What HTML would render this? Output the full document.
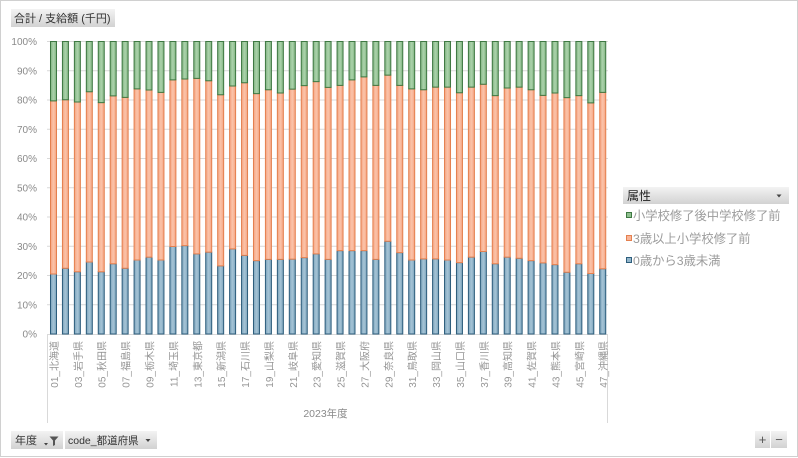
<!DOCTYPE html>
<html><head><meta charset="utf-8">
<style>
html,body{margin:0;padding:0;background:#fff;}
svg{display:block;}
text{font-family:"Liberation Sans","Noto Sans CJK JP",sans-serif;}
.yl{font-size:10px;fill:#8a8a8a;text-anchor:end;}
.xl{font-size:10px;fill:#949494;text-anchor:end;}
.lg{font-size:12.3px;fill:#9c9c9c;}
.s{stroke-width:1;vector-effect:non-scaling-stroke;}
</style></head>
<body>
<svg width="798" height="458" viewBox="0 0 798 458" xmlns="http://www.w3.org/2000/svg">
<defs>
<linearGradient id="btn" x1="0" y1="0" x2="0" y2="1"><stop offset="0" stop-color="#f3f3f3"/><stop offset="1" stop-color="#d2d2d2"/></linearGradient>
</defs>
<rect x="0.5" y="0.5" width="797" height="456" fill="#fff" stroke="#d0d0d0"/>

<rect x="11" y="9" width="104" height="18" fill="url(#btn)"/>
<text x="14" y="22" style="font-size:11px;fill:#333">合計 / 支給額 (千円)</text>

<path stroke="#d9d9d9" stroke-width="1" fill="none" d="M47 41.5H608M47 70.75H608M47 100H608M47 129.25H608M47 158.5H608M47 187.75H608M47 217H608M47 246.25H608M47 275.5H608M47 304.75H608M47 334.5H608M47.5 334V423M607.5 334V423"/>

<text class="yl" x="37" y="45">100%</text>
<text class="yl" x="37" y="74.3">90%</text>
<text class="yl" x="37" y="103.5">80%</text>
<text class="yl" x="37" y="132.8">70%</text>
<text class="yl" x="37" y="162">60%</text>
<text class="yl" x="37" y="191.3">50%</text>
<text class="yl" x="37" y="220.5">40%</text>
<text class="yl" x="37" y="249.8">30%</text>
<text class="yl" x="37" y="279">20%</text>
<text class="yl" x="37" y="308.3">10%</text>
<text class="yl" x="37" y="337.5">0%</text>

<g transform="translate(47,334) scale(11.94,-2.925)">
<defs>
<linearGradient id="gb" gradientUnits="userSpaceOnUse" x1="0.293" y1="0" x2="1.293" y2="0" spreadMethod="repeat"><stop offset="0" stop-color="#7ba3bb"/><stop offset="0.25" stop-color="#a6c4d6"/><stop offset="0.5025" stop-color="#7ba3bb"/><stop offset="1" stop-color="#7ba3bb"/></linearGradient>
<linearGradient id="go" gradientUnits="userSpaceOnUse" x1="0.293" y1="0" x2="1.293" y2="0" spreadMethod="repeat"><stop offset="0" stop-color="#f5a381"/><stop offset="0.25" stop-color="#fbc4aa"/><stop offset="0.5025" stop-color="#f5a381"/><stop offset="1" stop-color="#f5a381"/></linearGradient>
<linearGradient id="gg" gradientUnits="userSpaceOnUse" x1="0.293" y1="0" x2="1.293" y2="0" spreadMethod="repeat"><stop offset="0" stop-color="#80b380"/><stop offset="0.25" stop-color="#acd3ac"/><stop offset="0.5025" stop-color="#80b380"/><stop offset="1" stop-color="#80b380"/></linearGradient>
</defs>
<path class="s" fill="url(#gb)" stroke="#2d5d7c" d="M0.293 0V20.5h.5025V0zM1.293 0V22.5h.5025V0zM2.293 0V21.3h.5025V0zM3.293 0V24.6h.5025V0zM4.293 0V21.3h.5025V0zM5.293 0V24h.5025V0zM6.293 0V22.5h.5025V0zM7.293 0V25.3h.5025V0zM8.293 0V26.3h.5025V0zM9.293 0V25.3h.5025V0zM10.293 0V29.9h.5025V0zM11.293 0V30.2h.5025V0zM12.293 0V27.4h.5025V0zM13.293 0V28h.5025V0zM14.293 0V23.3h.5025V0zM15.293 0V29.1h.5025V0zM16.293 0V26.9h.5025V0zM17.293 0V25.1h.5025V0zM18.293 0V25.5h.5025V0zM19.293 0V25.5h.5025V0zM20.293 0V25.6h.5025V0zM21.293 0V26.1h.5025V0zM22.293 0V27.4h.5025V0zM23.293 0V25.5h.5025V0zM24.293 0V28.5h.5025V0zM25.293 0V28.5h.5025V0zM26.293 0V28.5h.5025V0zM27.293 0V25.5h.5025V0zM28.293 0V31.7h.5025V0zM29.293 0V27.8h.5025V0zM30.293 0V25.3h.5025V0zM31.293 0V25.7h.5025V0zM32.293 0V25.7h.5025V0zM33.293 0V25.3h.5025V0zM34.293 0V24.4h.5025V0zM35.293 0V26.3h.5025V0zM36.293 0V28.2h.5025V0zM37.293 0V24h.5025V0zM38.293 0V26.3h.5025V0zM39.293 0V25.9h.5025V0zM40.293 0V25.1h.5025V0zM41.293 0V24.3h.5025V0zM42.293 0V23.7h.5025V0zM43.293 0V21.1h.5025V0zM44.293 0V24h.5025V0zM45.293 0V20.7h.5025V0zM46.293 0V22.3h.5025V0z"/>
<path class="s" fill="url(#go)" stroke="#e4804f" d="M0.293 20.5V79.7h.5025V20.5zM1.293 22.5V80.1h.5025V22.5zM2.293 21.3V79.3h.5025V21.3zM3.293 24.6V82.8h.5025V24.6zM4.293 21.3V79.1h.5025V21.3zM5.293 24V81.4h.5025V24zM6.293 22.5V80.9h.5025V22.5zM7.293 25.3V83.8h.5025V25.3zM8.293 26.3V83.4h.5025V26.3zM9.293 25.3V82.6h.5025V25.3zM10.293 29.9V86.9h.5025V29.9zM11.293 30.2V87.2h.5025V30.2zM12.293 27.4V87.4h.5025V27.4zM13.293 28V86.6h.5025V28zM14.293 23.3V81.8h.5025V23.3zM15.293 29.1V84.8h.5025V29.1zM16.293 26.9V85.9h.5025V26.9zM17.293 25.1V82.2h.5025V25.1zM18.293 25.5V83.5h.5025V25.5zM19.293 25.5V82.4h.5025V25.5zM20.293 25.6V83.7h.5025V25.6zM21.293 26.1V84.9h.5025V26.1zM22.293 27.4V86.3h.5025V27.4zM23.293 25.5V84.3h.5025V25.5zM24.293 28.5V85h.5025V28.5zM25.293 28.5V86.9h.5025V28.5zM26.293 28.5V87.9h.5025V28.5zM27.293 25.5V85h.5025V25.5zM28.293 31.7V88.5h.5025V31.7zM29.293 27.8V85h.5025V27.8zM30.293 25.3V83.8h.5025V25.3zM31.293 25.7V83.5h.5025V25.7zM32.293 25.7V84.4h.5025V25.7zM33.293 25.3V84.4h.5025V25.3zM34.293 24.4V82.5h.5025V24.4zM35.293 26.3V84.4h.5025V26.3zM36.293 28.2V85.4h.5025V28.2zM37.293 24V81.5h.5025V24zM38.293 26.3V84.1h.5025V26.3zM39.293 25.9V84.4h.5025V25.9zM40.293 25.1V83.5h.5025V25.1zM41.293 24.3V81.6h.5025V24.3zM42.293 23.7V82.4h.5025V23.7zM43.293 21.1V80.8h.5025V21.1zM44.293 24V81.5h.5025V24zM45.293 20.7V79h.5025V20.7zM46.293 22.3V82.6h.5025V22.3z"/>
<path class="s" fill="url(#gg)" stroke="#3e7842" d="M0.293 79.7V100h.5025V79.7zM1.293 80.1V100h.5025V80.1zM2.293 79.3V100h.5025V79.3zM3.293 82.8V100h.5025V82.8zM4.293 79.1V100h.5025V79.1zM5.293 81.4V100h.5025V81.4zM6.293 80.9V100h.5025V80.9zM7.293 83.8V100h.5025V83.8zM8.293 83.4V100h.5025V83.4zM9.293 82.6V100h.5025V82.6zM10.293 86.9V100h.5025V86.9zM11.293 87.2V100h.5025V87.2zM12.293 87.4V100h.5025V87.4zM13.293 86.6V100h.5025V86.6zM14.293 81.8V100h.5025V81.8zM15.293 84.8V100h.5025V84.8zM16.293 85.9V100h.5025V85.9zM17.293 82.2V100h.5025V82.2zM18.293 83.5V100h.5025V83.5zM19.293 82.4V100h.5025V82.4zM20.293 83.7V100h.5025V83.7zM21.293 84.9V100h.5025V84.9zM22.293 86.3V100h.5025V86.3zM23.293 84.3V100h.5025V84.3zM24.293 85V100h.5025V85zM25.293 86.9V100h.5025V86.9zM26.293 87.9V100h.5025V87.9zM27.293 85V100h.5025V85zM28.293 88.5V100h.5025V88.5zM29.293 85V100h.5025V85zM30.293 83.8V100h.5025V83.8zM31.293 83.5V100h.5025V83.5zM32.293 84.4V100h.5025V84.4zM33.293 84.4V100h.5025V84.4zM34.293 82.5V100h.5025V82.5zM35.293 84.4V100h.5025V84.4zM36.293 85.4V100h.5025V85.4zM37.293 81.5V100h.5025V81.5zM38.293 84.1V100h.5025V84.1zM39.293 84.4V100h.5025V84.4zM40.293 83.5V100h.5025V83.5zM41.293 81.6V100h.5025V81.6zM42.293 82.4V100h.5025V82.4zM43.293 80.8V100h.5025V80.8zM44.293 81.5V100h.5025V81.5zM45.293 79V100h.5025V79zM46.293 82.6V100h.5025V82.6z"/>
</g>

<text class="xl" transform="translate(58,341) rotate(-90)">01_北海道</text>
<text class="xl" transform="translate(81.9,341) rotate(-90)">03_岩手県</text>
<text class="xl" transform="translate(105.7,341) rotate(-90)">05_秋田県</text>
<text class="xl" transform="translate(129.6,341) rotate(-90)">07_福島県</text>
<text class="xl" transform="translate(153.5,341) rotate(-90)">09_栃木県</text>
<text class="xl" transform="translate(177.4,341) rotate(-90)">11_埼玉県</text>
<text class="xl" transform="translate(201.3,341) rotate(-90)">13_東京都</text>
<text class="xl" transform="translate(225.1,341) rotate(-90)">15_新潟県</text>
<text class="xl" transform="translate(249,341) rotate(-90)">17_石川県</text>
<text class="xl" transform="translate(272.9,341) rotate(-90)">19_山梨県</text>
<text class="xl" transform="translate(296.8,341) rotate(-90)">21_岐阜県</text>
<text class="xl" transform="translate(320.7,341) rotate(-90)">23_愛知県</text>
<text class="xl" transform="translate(344.5,341) rotate(-90)">25_滋賀県</text>
<text class="xl" transform="translate(368.4,341) rotate(-90)">27_大阪府</text>
<text class="xl" transform="translate(392.3,341) rotate(-90)">29_奈良県</text>
<text class="xl" transform="translate(416.2,341) rotate(-90)">31_鳥取県</text>
<text class="xl" transform="translate(440.1,341) rotate(-90)">33_岡山県</text>
<text class="xl" transform="translate(463.9,341) rotate(-90)">35_山口県</text>
<text class="xl" transform="translate(487.8,341) rotate(-90)">37_香川県</text>
<text class="xl" transform="translate(511.7,341) rotate(-90)">39_高知県</text>
<text class="xl" transform="translate(535.6,341) rotate(-90)">41_佐賀県</text>
<text class="xl" transform="translate(559.5,341) rotate(-90)">43_熊本県</text>
<text class="xl" transform="translate(583.3,341) rotate(-90)">45_宮崎県</text>
<text class="xl" transform="translate(607.2,341) rotate(-90)">47_沖縄県</text>

<text x="325.5" y="417" style="font-size:10.5px;fill:#8a8a8a;text-anchor:middle">2023年度</text>

<rect x="623" y="187" width="166" height="17" fill="url(#btn)"/>
<text x="627" y="200" style="font-size:12px;fill:#222">属性</text>
<path d="M776.5 194.5 L781.5 194.5 L779 197.5 Z" fill="#444"/>
<rect x="626.5" y="212.5" width="5" height="5" fill="#8fc08f" stroke="#3e7842"/>
<text class="lg" x="633" y="220">小学校修了後中学校修了前</text>
<rect x="626.5" y="235.5" width="5" height="5" fill="#f9b598" stroke="#e4804f"/>
<text class="lg" x="633" y="243">3歳以上小学校修了前</text>
<rect x="626.5" y="257.5" width="5" height="5" fill="#93b6cb" stroke="#2d5d7c"/>
<text class="lg" x="633" y="265">0歳から3歳未満</text>

<rect x="11" y="431" width="52" height="18" fill="url(#btn)"/>
<text x="15" y="444" style="font-size:11px;fill:#333">年度</text>
<path d="M44 443 L48 443 L46 445.5 Z" fill="#444"/>
<path d="M49.5 436.5 L58.5 436.5 L55 440.5 L55 445 L53 446 L53 440.5 Z" fill="#555"/>
<rect x="65" y="431" width="92" height="18" fill="url(#btn)"/>
<text x="68" y="444" style="font-size:10.5px;fill:#333">code_都道府県</text>
<path d="M145.5 439 L150.5 439 L148 442 Z" fill="#444"/>

<rect x="755" y="431" width="15" height="17" fill="url(#btn)"/>
<rect x="771" y="431" width="16" height="17" fill="url(#btn)"/>
<text x="762.5" y="444" style="font-size:13px;fill:#555;text-anchor:middle">+</text>
<text x="779" y="444" style="font-size:13px;fill:#555;text-anchor:middle">−</text>
</svg>
</body></html>
